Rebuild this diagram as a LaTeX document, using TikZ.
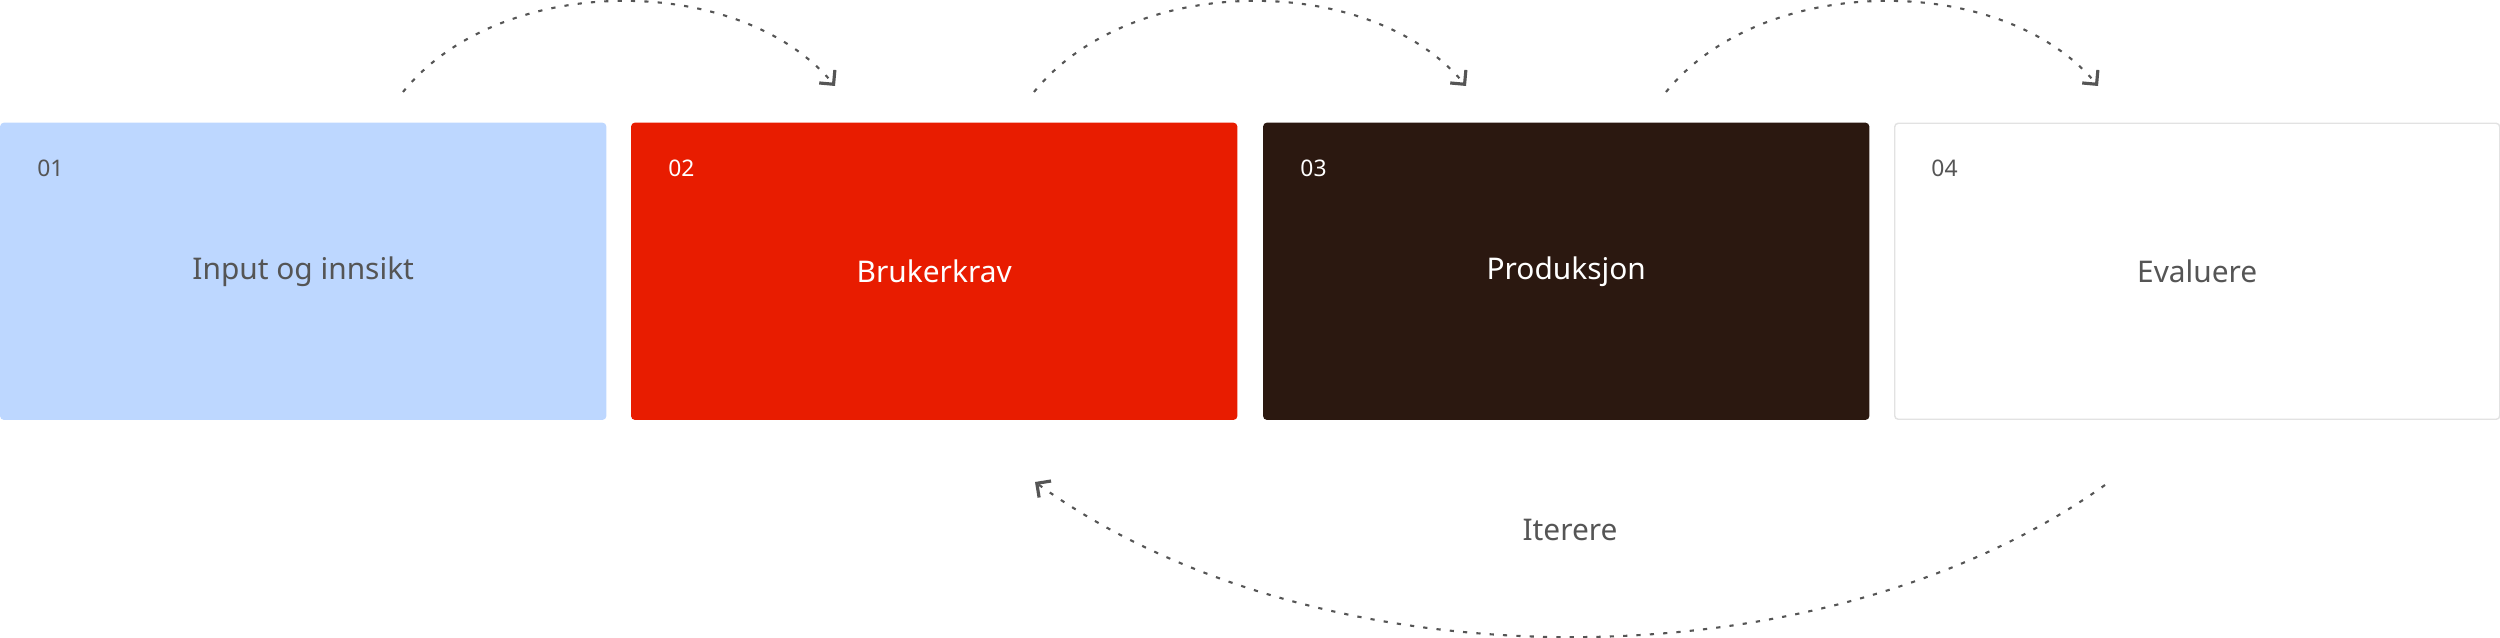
\documentclass[tikz,border=0pt]{standalone}
\usepackage{fontspec}
\setmainfont{Noto Sans}
\usetikzlibrary{arrows.meta}
\definecolor{stepblue}{HTML}{BDD7FF}
\definecolor{stepred}{HTML}{E81C00}
\definecolor{stepdark}{HTML}{2B1810}
\definecolor{stepline}{HTML}{E2E2E2}
\definecolor{txtgray}{HTML}{555555}
\tikzset{
  stepbox/.style={rectangle, rounded corners=1pt, minimum width=6.05cm, minimum height=2.96cm, anchor=south west},
  num/.style={font=\fontsize{6.5}{8}\selectfont},
  lbl/.style={font=\fontsize{8.5}{10}\selectfont},
  loop/.style={draw=txtgray, line width=0.6pt, dash pattern=on 1.2pt off 2.6pt, -{Straight Barb[angle=90:3.5pt 1, line width=0.9pt]}}
}
\begin{document}
\begin{tikzpicture}
    \useasboundingbox (0,0) rectangle (25,6.38);

    % Draw the four steps
    \foreach \i/\x/\fc/\dc/\tc/\name in {1/0/stepblue/stepblue/txtgray/Input og innsikt, 2/6.31/stepred/stepred/white/Brukerkrav, 3/12.63/stepdark/stepdark/white/Produksjon, 4/18.94/white/stepline/txtgray/Evaluere} {
        \node[stepbox, fill=\fc, draw=\dc] (s\i) at (\x,2.18) {};
        \node[num, text=\tc, anchor=west] (n\i) at (\x+0.25,4.7) {0\i};
        \node[lbl, text=\tc] (l\i) at (s\i.center) {\name};
    }

    % Forward arrows
    \foreach \i/\x in {1/0, 2/6.31, 3/12.63} {
        \coordinate (a\i) at (\x+4.03,5.46);
        \coordinate (b\i) at (\x+8.35,5.52);
        \draw[loop] (a\i) .. controls (\x+5.0,6.66) and (\x+7.4,6.66) .. (b\i);
    }

    % Back arrow
    \coordinate (c1) at (21.05,1.53);
    \coordinate (c2) at (10.35,1.56);
    \draw[loop] (c1) .. controls (18.2,-0.5) and (13.2,-0.5) .. (c2);
    \node[lbl, text=txtgray] (it) at (15.7,1.08) {Iterere};
\end{tikzpicture}
\end{document}
